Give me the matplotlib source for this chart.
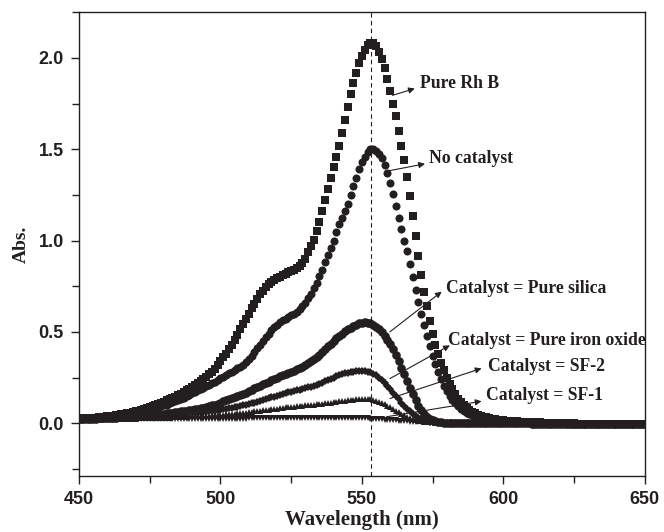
import numpy as np
import matplotlib
matplotlib.use("Agg")
import matplotlib.pyplot as plt
from matplotlib.ticker import MultipleLocator

# UV-vis spectra of Rh B, 1 nm steps from 450 to 650 nm
wavelength = np.arange(450, 651)

pure_rhb = [
    .025, .026, .027, .028, .029, .030, .031, .032, .034, .035,
    .037, .039, .041, .043, .045, .048, .051, .054, .057, .061,
    .065, .069, .073, .078, .083, .088, .093, .099, .105, .111,
    .118, .125, .132, .139, .146, .154, .162, .170, .179, .188,
    .198, .208, .219, .230, .242, .255, .268, .282, .298, .318,
    .340, .360, .380, .405, .430, .457, .485, .515, .545, .572,
    .600, .628, .655, .680, .705, .725, .745, .760, .775, .785,
    .795, .803, .810, .818, .825, .833, .840, .850, .860, .875,
    .900, .935, .970, 1.005, 1.050, 1.100, 1.160, 1.220, 1.280, 1.340,
    1.400, 1.460, 1.520, 1.590, 1.660, 1.730, 1.800, 1.860, 1.920, 1.970,
    2.010, 2.045, 2.070, 2.080, 2.080, 2.065, 2.035, 1.995, 1.945, 1.885,
    1.820, 1.750, 1.680, 1.600, 1.520, 1.440, 1.350, 1.245, 1.135, 1.025,
    .915, .810, .720, .640, .560, .490, .430, .380, .330, .290,
    .250, .215, .185, .160, .135, .115, .098, .084, .072, .062,
    .054, .047, .041, .036, .032, .028, .025, .022, .020, .018,
    .016, .014, .013, .012, .011, .010, .009, .008, .007, .006,
    .005, .005, .004, .004, .003, .003, .002, .002, .001, .001,
    .000, .000, .000, -.001, -.001, -.001, -.002, -.002, -.002, -.002,
    -.003, -.003, -.003, -.003, -.003, -.003, -.003, -.003, -.003, -.003,
    -.003, -.003, -.003, -.004, -.004, -.004, -.004, -.004, -.004, -.004, -.004,
]

no_catalyst = [
    .024, .025, .026, .026, .027, .028, .029, .030, .031, .032,
    .033, .035, .037, .039, .041, .043, .045, .047, .050, .053,
    .056, .059, .062, .066, .070, .074, .078, .082, .087, .092,
    .097, .102, .108, .114, .120, .126, .133, .140, .147, .155,
    .163, .171, .179, .187, .195, .203, .211, .219, .227, .236,
    .245, .255, .263, .272, .281, .290, .300, .310, .320, .333,
    .350, .370, .390, .410, .430, .450, .470, .490, .510, .525,
    .540, .552, .563, .573, .582, .590, .600, .610, .625, .640,
    .660, .685, .710, .740, .770, .805, .840, .880, .920, .960,
    1.000, 1.045, 1.090, 1.125, 1.160, 1.200, 1.250, 1.300, 1.345, 1.390,
    1.430, 1.460, 1.485, 1.500, 1.500, 1.490, 1.475, 1.450, 1.415, 1.370,
    1.315, 1.255, 1.190, 1.125, 1.065, 1.000, .940, .870, .800, .730,
    .665, .600, .540, .480, .425, .370, .325, .280, .240, .205,
    .175, .150, .128, .110, .094, .080, .068, .058, .050, .043,
    .037, .032, .028, .025, .022, .020, .018, .016, .015, .014,
    .013, .012, .011, .010, .009, .008, .007, .006, .005, .004,
    .004, .003, .003, .002, .002, .001, .001, .000, .000, .000,
    -.001, -.001, -.001, -.001, -.002, -.002, -.002, -.002, -.002, -.002,
    -.003, -.003, -.003, -.003, -.003, -.003, -.003, -.003, -.003, -.003,
    -.003, -.003, -.003, -.004, -.004, -.004, -.004, -.004, -.004, -.004, -.004,
]

pure_silica = [
    .022, .022, .023, .023, .024, .024, .025, .026, .027, .027,
    .028, .029, .030, .031, .032, .033, .034, .035, .036, .037,
    .038, .039, .040, .042, .043, .044, .046, .047, .049, .050,
    .052, .054, .056, .058, .060, .062, .064, .066, .068, .070,
    .072, .075, .078, .081, .084, .088, .092, .097, .102, .107,
    .112, .120, .127, .133, .139, .145, .150, .155, .160, .167,
    .175, .183, .190, .198, .206, .213, .220, .228, .236, .244,
    .250, .257, .264, .270, .276, .282, .288, .295, .302, .310,
    .320, .330, .340, .350, .362, .375, .390, .405, .420, .435,
    .450, .465, .478, .490, .502, .513, .523, .532, .540, .546,
    .550, .552, .551, .546, .538, .527, .513, .497, .478, .457,
    .433, .405, .374, .340, .304, .267, .230, .193, .158, .125,
    .096, .071, .051, .036, .025, .017, .011, .007, .005, .003,
    .002, .002, .001, .001, .001, .000, .000, .000, .000, .000,
    .000, .000, .000, .000, .000, .000, .000, .000, .000, .000,
    -.001, -.001, -.001, -.001, -.001, -.001, -.001, -.001, -.001, -.001,
    -.002, -.002, -.002, -.002, -.002, -.002, -.002, -.002, -.002, -.002,
    -.002, -.002, -.002, -.002, -.002, -.003, -.003, -.003, -.003, -.003,
    -.003, -.003, -.003, -.003, -.003, -.003, -.003, -.003, -.003, -.003,
    -.003, -.003, -.003, -.003, -.004, -.004, -.004, -.004, -.004, -.004, -.004,
]

pure_iron_oxide = [
    .020, .020, .021, .021, .021, .022, .022, .022, .023, .023,
    .024, .024, .025, .025, .026, .026, .027, .028, .028, .029,
    .030, .031, .032, .033, .034, .035, .036, .037, .038, .039,
    .040, .041, .043, .044, .046, .047, .049, .050, .052, .054,
    .055, .057, .058, .060, .062, .063, .065, .067, .069, .071,
    .073, .076, .079, .082, .085, .088, .091, .094, .097, .100,
    .105, .109, .113, .117, .121, .126, .131, .136, .141, .146,
    .151, .156, .160, .164, .168, .172, .176, .180, .184, .188,
    .192, .196, .200, .205, .210, .216, .222, .229, .236, .243,
    .250, .256, .262, .267, .272, .276, .279, .282, .284, .285,
    .285, .284, .282, .278, .270, .262, .250, .235, .220, .203,
    .185, .167, .149, .131, .113, .096, .080, .065, .052, .040,
    .030, .022, .015, .010, .007, .005, .004, .003, .002, .002,
    .001, .001, .001, .000, .000, .000, .000, .000, .000, .000,
    .000, .000, .000, .000, .000, .000, .000, .000, .000, .000,
    -.001, -.001, -.001, -.001, -.001, -.001, -.001, -.001, -.001, -.001,
    -.002, -.002, -.002, -.002, -.002, -.002, -.002, -.002, -.002, -.002,
    -.002, -.002, -.002, -.002, -.002, -.003, -.003, -.003, -.003, -.003,
    -.003, -.003, -.003, -.003, -.003, -.003, -.003, -.003, -.003, -.003,
    -.003, -.003, -.003, -.003, -.004, -.004, -.004, -.004, -.004, -.004, -.004,
]

sf2 = [
    .020, .020, .020, .020, .021, .021, .021, .021, .022, .022,
    .022, .022, .023, .023, .023, .024, .024, .024, .025, .025,
    .025, .026, .026, .027, .027, .028, .028, .029, .029, .030,
    .030, .031, .031, .032, .033, .034, .034, .035, .036, .037,
    .038, .039, .039, .040, .041, .042, .042, .043, .044, .045,
    .046, .047, .048, .050, .051, .052, .053, .055, .056, .058,
    .060, .062, .064, .066, .068, .070, .072, .074, .076, .078,
    .080, .082, .084, .086, .088, .089, .091, .092, .094, .095,
    .097, .098, .100, .101, .103, .105, .107, .109, .111, .113,
    .115, .117, .119, .121, .123, .125, .127, .129, .131, .132,
    .133, .133, .132, .130, .127, .123, .118, .112, .104, .096,
    .087, .078, .069, .060, .051, .043, .035, .028, .022, .017,
    .013, .010, .008, .006, .005, .004, .003, .003, .002, .002,
    .001, .001, .001, .001, .000, .000, .000, .000, .000, .000,
    .000, .000, .000, .000, .000, .000, .000, .000, .000, .000,
    -.001, -.001, -.001, -.001, -.001, -.001, -.001, -.001, -.001, -.001,
    -.002, -.002, -.002, -.002, -.002, -.002, -.002, -.002, -.002, -.002,
    -.002, -.002, -.002, -.002, -.002, -.003, -.003, -.003, -.003, -.003,
    -.003, -.003, -.003, -.003, -.003, -.003, -.003, -.003, -.003, -.003,
    -.003, -.003, -.003, -.003, -.004, -.004, -.004, -.004, -.004, -.004, -.004,
]

sf1 = [
    .022, .022, .022, .022, .022, .022, .022, .022, .022, .022,
    .022, .022, .022, .022, .022, .023, .023, .023, .023, .023,
    .023, .023, .023, .023, .023, .023, .023, .023, .023, .023,
    .024, .024, .024, .024, .024, .024, .024, .024, .024, .024,
    .024, .024, .024, .024, .024, .025, .025, .025, .025, .025,
    .025, .025, .025, .025, .025, .025, .025, .025, .025, .025,
    .026, .026, .026, .026, .026, .026, .026, .026, .026, .026,
    .026, .026, .026, .026, .027, .027, .027, .027, .027, .027,
    .027, .027, .027, .027, .027, .027, .027, .027, .027, .027,
    .028, .028, .028, .028, .028, .028, .028, .028, .027, .027,
    .027, .026, .026, .025, .024, .023, .022, .021, .020, .019,
    .018, .017, .015, .014, .013, .011, .010, .009, .008, .007,
    .006, .005, .004, .004, .003, .003, .002, .002, .002, .001,
    .001, .001, .001, .000, .000, .000, .000, .000, .000, .000,
    .000, .000, .000, .000, .000, .000, .000, .000, .000, .000,
    -.001, -.001, -.001, -.001, -.001, -.001, -.001, -.001, -.001, -.001,
    -.002, -.002, -.002, -.002, -.002, -.002, -.002, -.002, -.002, -.002,
    -.002, -.002, -.002, -.002, -.002, -.003, -.003, -.003, -.003, -.003,
    -.003, -.003, -.003, -.003, -.003, -.003, -.003, -.003, -.003, -.003,
    -.003, -.003, -.003, -.003, -.004, -.004, -.004, -.004, -.004, -.004, -.004,
]

labels = ["Pure Rh B", "No catalyst", "Catalyst = Pure silica",
          "Catalyst = Pure iron oxide", "Catalyst = SF-2", "Catalyst = SF-1"]
peak_wl = 553.3

# where each label sits and where its arrow goes (tail on curve -> head near text)
label_pos = [(570.5, 1.86), (573.8, 1.45), (579.9, 0.74),
             (580.5, 0.454), (594.6, 0.31), (593.8, 0.15)]
arrow_tail = [(560.8, 1.795), (558.9, 1.38), (559.9, 0.50),
              (559.9, 0.244), (559.9, 0.135), (558.7, 0.035)]
arrow_head = [(568.7, 1.832), (572.3, 1.42), (578.2, 0.72),
              (581.1, 0.426), (592.3, 0.30), (592.3, 0.12)]

ink = "#231f20"
series = [pure_rhb, no_catalyst, pure_silica, pure_iron_oxide, sf2, sf1]
markers = ["s", "o", "o", "D", "^", "v"]
sizes = [5.2, 5.8, 6.2, 4.4, 4.8, 4.2]

fig = plt.figure(figsize=(6.64, 5.32), dpi=100)
ax = fig.add_axes([0.119, 0.105, 0.852, 0.872])

for y, m, s in zip(series, markers, sizes):
    ax.plot(wavelength, y, ls="none", marker=m, ms=s, color=ink,
            markeredgewidth=0)

ax.axvline(peak_wl, color=ink, lw=0.8, ls=(0, (4, 3)))

for lab, pos, t, h in zip(labels, label_pos, arrow_tail, arrow_head):
    ax.annotate("", xy=h, xytext=t,
                arrowprops=dict(arrowstyle="-|>", color=ink, lw=0.8,
                                mutation_scale=9, shrinkA=0, shrinkB=0))
    ax.text(pos[0], pos[1], lab, ha="left", va="center",
            fontfamily="Liberation Serif", fontweight="bold", fontsize=12.7,
            color=ink)

ax.set_xlim(450, 650)
ax.set_ylim(-0.29, 2.25)
ax.xaxis.set_major_locator(MultipleLocator(50))
ax.xaxis.set_minor_locator(MultipleLocator(25))
ax.yaxis.set_major_locator(MultipleLocator(0.5))
ax.yaxis.set_minor_locator(MultipleLocator(0.25))
ax.tick_params(which="both", direction="out", color=ink, width=1.0,
               top=False, right=False)
ax.tick_params(which="major", length=6, pad=5)
ax.tick_params(which="minor", length=5)
for lab in ax.get_xticklabels() + ax.get_yticklabels():
    lab.set_fontfamily("Liberation Sans")
    lab.set_fontweight("bold")
    lab.set_fontsize(13)
    lab.set_color(ink)
for sp in ax.spines.values():
    sp.set_color(ink)
    sp.set_linewidth(1.0)

ax.set_xlabel("Wavelength (nm)", fontfamily="Liberation Serif",
              fontweight="bold", fontsize=15, color=ink, labelpad=1)
ax.set_ylabel("Abs.", fontfamily="Liberation Serif", fontweight="bold",
              fontsize=14, color=ink, labelpad=6)

fig.savefig("out.png", dpi=100)
